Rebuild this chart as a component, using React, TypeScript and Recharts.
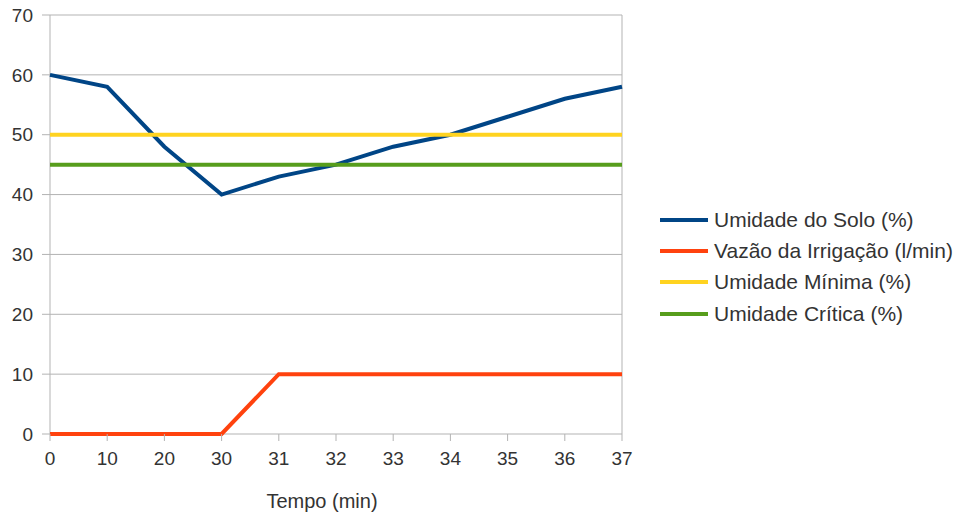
import { CartesianGrid, Line, LineChart, XAxis, YAxis } from "recharts"

const tempo = ["0", "10", "20", "30", "31", "32", "33", "34", "35", "36", "37"]
const umidadeSolo = [60, 58, 48, 40, 43, 45, 48, 50, 53, 56, 58]
const vazaoIrrigacao = [0, 0, 0, 0, 10, 10, 10, 10, 10, 10, 10]
const umidadeMinima = [50, 50, 50, 50, 50, 50, 50, 50, 50, 50, 50]
const umidadeCritica = [45, 45, 45, 45, 45, 45, 45, 45, 45, 45, 45]
const yTicks = [0, 10, 20, 30, 40, 50, 60, 70]

const FONT = '"Liberation Sans", Arial, sans-serif'
const GRID = "#b3b3b3"
const TEXT = "#333333"

const data = tempo.map((t, i) => ({
  tempo: t,
  solo: umidadeSolo[i],
  vazao: vazaoIrrigacao[i],
  minima: umidadeMinima[i],
  critica: umidadeCritica[i],
}))

const series = [
  { key: "solo", name: "Umidade do Solo (%)", color: "#004586" },
  { key: "vazao", name: "Vazão da Irrigação (l/min)", color: "#ff420e" },
  { key: "minima", name: "Umidade Mínima (%)", color: "#ffd320" },
  { key: "critica", name: "Umidade Crítica (%)", color: "#579d1c" },
]

function LegendBox() {
  return (
    <div
      style={{
        position: "absolute",
        left: 660,
        top: 204,
        fontFamily: FONT,
        fontSize: 21,
        color: TEXT,
      }}
    >
      {series.map((s) => (
        <div key={s.key} style={{ display: "flex", alignItems: "center", height: 31.3 }}>
          <span style={{ width: 48, height: 4, background: s.color, marginRight: 6 }} />
          <span style={{ whiteSpace: "nowrap" }}>{s.name}</span>
        </div>
      ))}
    </div>
  )
}

// only the outer left/right edges of the plot get a vertical rule
const edgeLines = ({ offset }: any) => [offset.left, offset.left + offset.width]

export default function App() {
  return (
    <div style={{ position: "absolute", left: 0, top: 0, width: 957, height: 516, background: "#fff" }}>
      <LineChart
        width={957}
        height={516}
        data={data}
        margin={{ top: 15, right: 335, left: 0, bottom: 0 }}
        style={{ fontFamily: FONT }}
      >
        <CartesianGrid stroke={GRID} strokeWidth={1} verticalCoordinatesGenerator={edgeLines} />
        <XAxis
          dataKey="tempo"
          height={82}
          stroke={GRID}
          axisLine={false}
          tickSize={7}
          tickMargin={11}
          tick={{ fill: TEXT, fontSize: 19 }}
          interval={0}
          label={{ value: "Tempo (min)", position: "insideBottom", offset: 8, dx: -14, fill: TEXT, fontSize: 20 }}
        />
        <YAxis
          width={50}
          domain={[0, 70]}
          ticks={yTicks}
          stroke={GRID}
          axisLine={false}
          tickSize={8}
          tickMargin={9}
          tick={{ fill: TEXT, fontSize: 19 }}
          interval={0}
        />
        {series.map((s) => (
          <Line
            key={s.key}
            dataKey={s.key}
            name={s.name}
            stroke={s.color}
            strokeWidth={4}
            dot={false}
            activeDot={false}
            isAnimationActive={false}
            type="linear"
          />
        ))}
      </LineChart>
      <LegendBox />
    </div>
  )
}
